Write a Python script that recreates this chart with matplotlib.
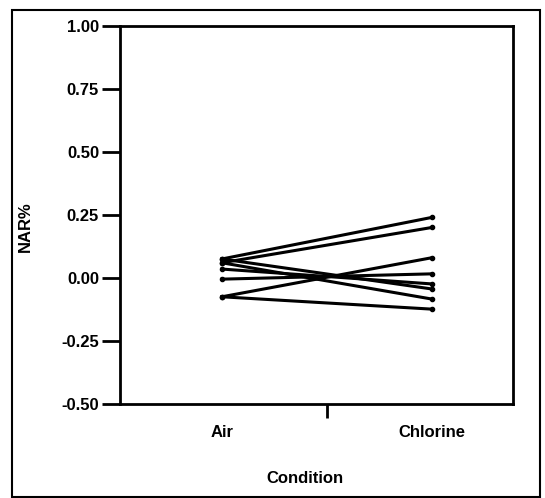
import matplotlib.pyplot as plt
from matplotlib.patches import Rectangle

plt.rcParams['font.family'] = ['Liberation Sans', 'DejaVu Sans']
plt.rcParams['font.weight'] = 'bold'
plt.rcParams['axes.labelweight'] = 'bold'

# NAR% per subject, Air vs Chlorine
conditions = ['Air', 'Chlorine']
air = [0.075, 0.060, 0.075, 0.060, 0.035, -0.005, -0.075, -0.075]
chlorine = [0.240, 0.200, -0.044, -0.084, -0.024, 0.016, 0.080, -0.124]

fig = plt.figure(figsize=(5.45, 4.98), dpi=100)
ax = fig.add_axes([0.220, 0.189, 0.721, 0.759])

for a, c in zip(air, chlorine):
    ax.plot([1, 2], [a, c], color='black', linewidth=2.2, marker='o', markersize=3)

ax.set_xlim(0.514, 2.386)
ax.set_ylim(-0.5, 1.0)
ax.set_yticks([-0.5, -0.25, 0.0, 0.25, 0.5, 0.75, 1.0])
ax.set_yticklabels(['-0.50', '-0.25', '0.00', '0.25', '0.50', '0.75', '1.00'], fontsize=12)
ax.set_xticks([1, 2])
ax.set_xticklabels(conditions, fontsize=12)
ax.set_xticks([1.5], minor=True)
ax.tick_params(axis='x', which='major', length=0, pad=15)
ax.tick_params(axis='x', which='minor', length=10, width=2, direction='out')
ax.tick_params(axis='y', length=13, width=2, pad=2)

for s in ax.spines.values():
    s.set_linewidth(2)

ax.set_ylabel('NAR%', fontsize=12)
ax.yaxis.set_label_coords(-0.221, 0.468)
ax.set_xlabel('Condition', fontsize=12)
ax.xaxis.set_label_coords(0.47, -0.177)

# outer frame around the figure
fig.patches.append(Rectangle((12 / 545, 1 / 498), 528 / 545, 487 / 498,
                             transform=fig.transFigure, fill=False,
                             edgecolor='black', linewidth=1.5))

fig.savefig('out.png', dpi=100)
